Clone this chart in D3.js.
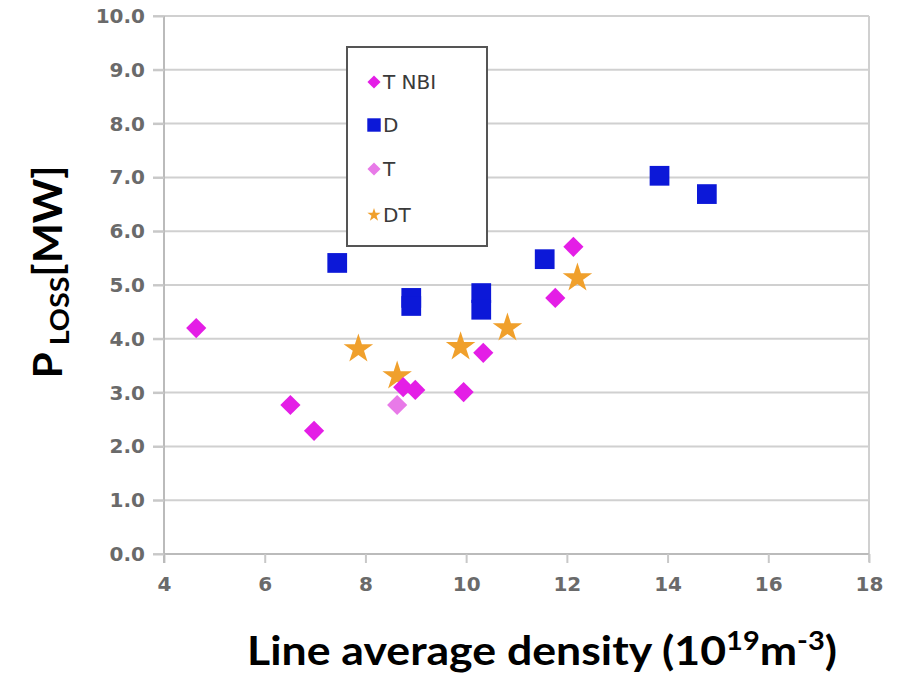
<!DOCTYPE html>
<html>
<head>
<meta charset="utf-8">
<script src="https://cdn.jsdelivr.net/npm/d3@7"></script>
<style>
  body { margin: 0; background: #fff; }
  svg { display: block; }
</style>
</head>
<body>
<svg width="904" height="679"></svg>
<script>
let svg = d3.select("svg");

// data: [density, P_loss]
const tNbi = [[4.64, 4.20], [6.51, 2.77], [6.98, 2.29], [8.75, 3.10], [8.99, 3.05],
              [9.95, 3.01], [10.34, 3.74], [11.77, 4.76], [12.13, 5.71]];
const dPts = [[7.44, 5.41], [8.91, 4.76], [8.91, 4.61], [10.30, 4.85], [10.30, 4.54],
              [11.56, 5.48], [13.84, 7.03], [14.78, 6.69]];
const tPts = [[8.63, 2.77]];
const dtPts = [[7.86, 3.81], [8.63, 3.31], [9.89, 3.85], [10.82, 4.20], [12.21, 5.13]];

const xTicks = [4, 6, 8, 10, 12, 14, 16, 18];
const yTicks = [0, 1, 2, 3, 4, 5, 6, 7, 8, 9, 10];
const legendNames = ["T NBI", "D", "T", "DT"];

let x = d3.scaleLinear().domain([4, 18]).range([164, 869]);
let y = d3.scaleLinear().domain([0, 10]).range([554, 16]);

const tickFont = "DejaVu Sans, Verdana, sans-serif";
const titleFont = "Lato, Open Sans, sans-serif";

// grid
svg.append("g").selectAll("line").data(yTicks).enter().append("line")
  .attr("x1", 153).attr("x2", x(18))
  .attr("y1", d => y(d)).attr("y2", d => y(d))
  .attr("stroke", "#d0d0d0").attr("stroke-width", 2);

svg.append("line").attr("x1", x(18)).attr("x2", x(18)).attr("y1", y(10)).attr("y2", y(0) + 8)
  .attr("stroke", "#d0d0d0").attr("stroke-width", 2);

// axes
let xAxis = svg.append("g").attr("transform", `translate(0,${y(0)})`)
  .call(d3.axisBottom(x).tickValues(xTicks).tickSize(9).tickPadding(14).tickFormat(d3.format("d")));
let yAxis = svg.append("g").attr("transform", `translate(${x(4)},0)`)
  .call(d3.axisLeft(y).tickValues(yTicks).tickSize(11).tickPadding(8).tickFormat(d3.format(".1f")));

for (const ax of [xAxis, yAxis]) {
  ax.select(".domain").attr("stroke", "#bbb").attr("stroke-width", 2);
  ax.selectAll(".tick line").attr("stroke", "#c8c8c8").attr("stroke-width", 2);
  ax.selectAll("text").attr("fill", "#6a6a6a").style("font-family", tickFont)
    .style("font-size", "20px").style("font-weight", "bold");
}
xAxis.select(".domain").attr("d", `M${x(4)},0H${x(18)}`);
yAxis.select(".domain").attr("d", `M0,${y(10)}V${y(0) + 9}`);

// symbols
const styles = [
  { data: tNbi, sym: d3.symbolDiamond2, size: 260, fill: "#e41ee6", lsize: 110 },
  { data: dPts, sym: d3.symbolSquare, size: 390, fill: "#0c18d8", lsize: 180 },
  { data: tPts, sym: d3.symbolDiamond2, size: 260, fill: "#e87ae8", lsize: 110 },
  { data: dtPts, sym: d3.symbolStar, size: 270, fill: "#f0a02c", lsize: 55 }
];

// draw order: D, DT, T NBI, T (roughly as overlaps look)
for (const i of [1, 3, 2, 0]) {
  let s = styles[i];
  svg.append("g").selectAll("path").data(s.data).enter().append("path")
    .attr("d", d3.symbol().type(s.sym).size(s.size))
    .attr("transform", d => `translate(${x(d[0])},${y(d[1])})`)
    .attr("fill", s.fill);
}

// legend
let legend = svg.append("g");
legend.append("rect").attr("x", 347).attr("y", 47).attr("width", 140).attr("height", 199)
  .attr("fill", "#fff").attr("stroke", "#555").attr("stroke-width", 2);
const legendY = [82, 125, 169, 215];
legendNames.forEach((name, i) => {
  let s = styles[i];
  legend.append("path")
    .attr("d", d3.symbol().type(s.sym).size(s.lsize))
    .attr("transform", `translate(${374},${legendY[i]})`)
    .attr("fill", s.fill);
  legend.append("text").attr("x", 383).attr("y", legendY[i] + 7)
    .style("font-family", tickFont).style("font-size", "20px")
    .attr("fill", "#3a3a3a").text(name);
});

// axis titles
let xt = svg.append("text").attr("x", 542).attr("y", 665).attr("text-anchor", "middle")
  .attr("textLength", 590).attr("lengthAdjust", "spacingAndGlyphs")
  .style("font-family", titleFont).style("font-weight", "bold").style("font-size", "40px")
  .attr("fill", "#000");
xt.append("tspan").text("Line average density (10");
xt.append("tspan").attr("dy", -15).style("font-size", "26px").text("19");
xt.append("tspan").attr("dy", 15).text("m");
xt.append("tspan").attr("dy", -15).style("font-size", "26px").text("-3");
xt.append("tspan").attr("dy", 15).text(")");

let yt = svg.append("text").attr("transform", "translate(62,272) rotate(-90)")
  .attr("text-anchor", "middle")
  .attr("textLength", 213).attr("lengthAdjust", "spacingAndGlyphs")
  .style("font-family", titleFont).style("font-weight", "bold").style("font-size", "40px")
  .attr("fill", "#000");
yt.append("tspan").text("P");
yt.append("tspan").attr("dy", 7).style("font-size", "27px").text(" LOSS");
yt.append("tspan").attr("dy", -7).text("[MW]");
</script>
</body>
</html>
